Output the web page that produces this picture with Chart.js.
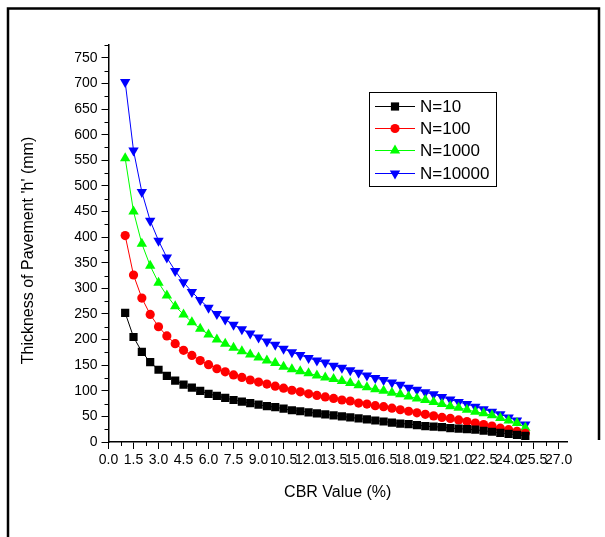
<!DOCTYPE html>
<html>
<head>
<meta charset="utf-8">
<script src="https://cdn.jsdelivr.net/npm/chart.js@4.4.1/dist/chart.umd.min.js"></script>
<style>
  body { margin: 0; background: #fff; }
  canvas { display: block; }
</style>
</head>
<body>
<canvas id="chart" width="605" height="537"></canvas>
<script>
// CBR values (%) along the x axis
const cbr = [1, 1.5, 2, 2.5, 3, 3.5, 4, 4.5, 5, 5.5, 6, 6.5, 7, 7.5, 8, 8.5, 9, 9.5, 10, 10.5,
  11, 11.5, 12, 12.5, 13, 13.5, 14, 14.5, 15, 15.5, 16, 16.5, 17, 17.5, 18, 18.5, 19, 19.5, 20,
  20.5, 21, 21.5, 22, 22.5, 23, 23.5, 24, 24.5, 25];

// pavement thickness h (mm)
const n10 = [252, 205, 176, 156, 141, 129, 120, 112, 106, 100, 94, 90, 86, 82, 79, 76, 73, 70, 68, 65,
  62, 60, 58, 56, 54, 52, 50, 48, 46, 44, 42, 40, 38, 36, 35, 33, 31, 30, 29,
  27, 26, 25, 24, 22, 20, 18, 16, 14, 12];
const n100 = [403, 326, 281, 249, 225, 207, 192, 179, 169, 159, 151, 143, 137, 131, 126, 121, 117, 113, 109, 105,
  101, 98, 94, 91, 88, 85, 82, 80, 76, 74, 71, 69, 66, 63, 60, 57, 54, 51, 48,
  46, 43, 40, 37, 34, 31, 27, 24, 21, 17];
const n1000 = [554, 450, 387, 344, 311, 286, 265, 249, 234, 221, 210, 200, 192, 184, 177, 171, 165, 159, 154, 147,
  142, 138, 134, 130, 126, 123, 119, 115, 111, 107, 103, 100, 96, 93, 89, 85, 82, 78, 74,
  70, 67, 63, 59, 56, 52, 47, 42, 37, 28];
const n10000 = [703, 569, 488, 432, 393, 360, 334, 312, 293, 277, 262, 250, 239, 229, 220, 212, 204, 196, 190, 182,
  175, 170, 164, 159, 155, 149, 145, 140, 135, 130, 125, 121, 116, 112, 106, 102, 97, 93, 88,
  83, 78, 74, 69, 64, 59, 54, 48, 42, 34];

const seriesNames = ['N=10', 'N=100', 'N=1000', 'N=10000'];

// tick labels
const xTicks = [0, 1.5, 3, 4.5, 6, 7.5, 9, 10.5, 12, 13.5, 15, 16.5, 18, 19.5, 21, 22.5, 24, 25.5, 27];
const yTicks = [0, 50, 100, 150, 200, 250, 300, 350, 400, 450, 500, 550, 600, 650, 700, 750];

const FONT = 'Arial, "Liberation Sans", sans-serif';

const styles = [
  { color: '#000000', pointStyle: 'rect', radius: 5.8, rotation: 0 },
  { color: '#ff0000', pointStyle: 'circle', radius: 4.6, rotation: 0 },
  { color: '#00ff00', pointStyle: 'triangle', radius: 6, rotation: 0 },
  { color: '#0000ff', pointStyle: 'triangle', radius: 6, rotation: 180 }
];

const values = [n10, n100, n1000, n10000];

function drawMarker(ctx, style, x, y) {
  const r = style.radius;
  ctx.fillStyle = style.color;
  ctx.beginPath();
  if (style.pointStyle === 'rect') {
    const s = r * Math.SQRT1_2;
    ctx.rect(x - s, y - s, 2 * s, 2 * s);
  } else if (style.pointStyle === 'circle') {
    ctx.arc(x, y, r, 0, Math.PI * 2);
  } else {
    let rad = style.rotation * Math.PI / 180;
    ctx.moveTo(x + Math.sin(rad) * r, y - Math.cos(rad) * r);
    rad += Math.PI * 2 / 3;
    ctx.lineTo(x + Math.sin(rad) * r, y - Math.cos(rad) * r);
    rad += Math.PI * 2 / 3;
    ctx.lineTo(x + Math.sin(rad) * r, y - Math.cos(rad) * r);
    ctx.closePath();
  }
  ctx.fill();
}

const extras = {
  id: 'extras',
  beforeDraw(chart) {
    const ctx = chart.ctx;
    ctx.save();
    ctx.fillStyle = '#fff';
    ctx.fillRect(0, 0, chart.width, chart.height);
    ctx.restore();
  },
  afterDraw(chart) {
    const ctx = chart.ctx;
    const xs = chart.scales.x;
    const ys = chart.scales.y;
    const area = chart.chartArea;
    ctx.save();

    // minor ticks
    ctx.strokeStyle = '#000';
    ctx.lineWidth = 1;
    ctx.beginPath();
    for (let v = 25; v <= 775; v += 50) {
      const py = Math.round(ys.getPixelForValue(v)) + 0.5;
      ctx.moveTo(area.left - 4, py);
      ctx.lineTo(area.left, py);
    }
    for (let v = 0.75; v < 27.5; v += 1.5) {
      const px = Math.round(xs.getPixelForValue(v)) + 0.5;
      ctx.moveTo(px, area.bottom);
      ctx.lineTo(px, area.bottom + 4);
    }
    ctx.stroke();

    // axis titles
    ctx.fillStyle = '#000';
    ctx.font = '16px ' + FONT;
    ctx.textAlign = 'center';
    ctx.textBaseline = 'middle';
    ctx.fillText('CBR Value (%)', (area.left + area.right) / 2, 493);
    ctx.save();
    ctx.translate(29, (area.top + area.bottom) / 2 + 7);
    ctx.rotate(-Math.PI / 2);
    ctx.fillText("Thickness of Pavement 'h' (mm)", 0, 0);
    ctx.restore();

    // legend box
    ctx.lineWidth = 1;
    ctx.strokeStyle = '#000';
    ctx.strokeRect(369.5, 92.5, 127, 94);
    ctx.font = '17px ' + FONT;
    ctx.textAlign = 'left';
    const rowsY = [106, 128, 150, 173];
    seriesNames.forEach((name, i) => {
      const y = rowsY[i];
      ctx.strokeStyle = styles[i].color;
      ctx.beginPath();
      ctx.moveTo(375, y + 0.5);
      ctx.lineTo(415, y + 0.5);
      ctx.stroke();
      drawMarker(ctx, styles[i], 395, y + 0.5);
      ctx.fillStyle = '#000';
      ctx.fillText(name, 420, y + 1);
    });

    // outer frame
    ctx.strokeStyle = '#000';
    ctx.lineWidth = 2.5;
    ctx.beginPath();
    ctx.moveTo(8, 537);
    ctx.lineTo(8, 8.5);
    ctx.lineTo(599, 8.5);
    ctx.lineTo(599, 440);
    ctx.stroke();

    ctx.restore();
  }
};

const ctx = document.getElementById('chart').getContext('2d');

new Chart(ctx, {
  type: 'line',
  data: {
    datasets: seriesNames.map((name, i) => ({
      label: name,
      data: cbr.map((x, j) => ({ x: x, y: values[i][j] })),
      borderColor: styles[i].color,
      backgroundColor: styles[i].color,
      pointBackgroundColor: styles[i].color,
      pointBorderColor: styles[i].color,
      pointStyle: styles[i].pointStyle,
      pointRotation: styles[i].rotation,
      pointRadius: styles[i].radius,
      pointBorderWidth: 0,
      borderWidth: 1,
      tension: 0,
      fill: false,
    })),
  },
  options: {
    responsive: false,
    animation: false,
    devicePixelRatio: 1,
    layout: { padding: { left: 20, top: 45, right: 38, bottom: 0 } },
    plugins: {
      legend: { display: false },
      tooltip: { enabled: false },
    },
    scales: {
      x: {
        type: 'linear',
        min: 0,
        max: 27.5,
        afterBuildTicks: (s) => { s.ticks = xTicks.map((v) => ({ value: v })); },
        afterFit: (s) => { s.height = 95; },
        ticks: {
          autoSkip: false,
          maxRotation: 0,
          minRotation: 0,
          padding: 3,
          color: '#000',
          font: { family: FONT, size: 14 },
          callback: (v) => Number(v).toFixed(1),
        },
        grid: { display: true, drawOnChartArea: false, tickLength: 7, tickColor: '#000', tickWidth: 1 },
        border: { display: true, color: '#000', width: 1.5 },
      },
      y: {
        type: 'linear',
        min: 0,
        max: 775,
        afterBuildTicks: (s) => { s.ticks = yTicks.map((v) => ({ value: v })); },
        afterFit: (s) => { s.width = 88.5; },
        ticks: {
          padding: 4,
          color: '#000',
          font: { family: FONT, size: 14 },
        },
        grid: { display: true, drawOnChartArea: false, tickLength: 7, tickColor: '#000', tickWidth: 1 },
        border: { display: true, color: '#000', width: 1.5 },
      },
    },
  },
  plugins: [extras],
});
</script>
</body>
</html>
